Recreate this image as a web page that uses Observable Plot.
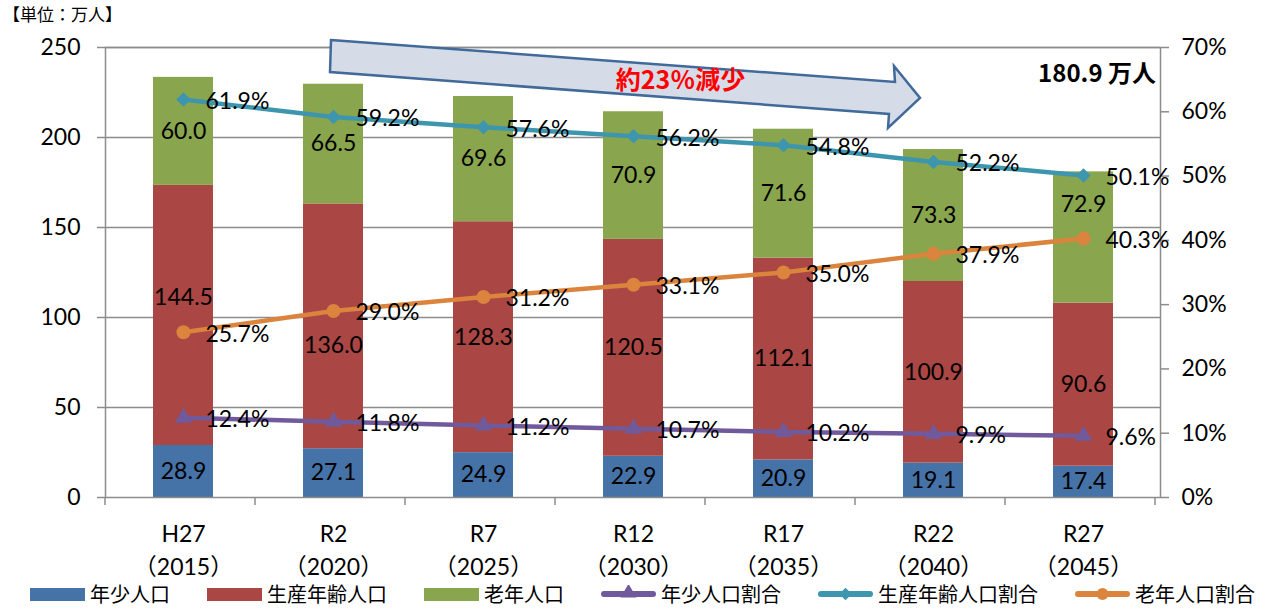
<!DOCTYPE html>
<html>
<head>
<meta charset="utf-8">
<script src="https://cdn.jsdelivr.net/npm/d3@7"></script>
<script src="https://cdn.jsdelivr.net/npm/@observablehq/plot@0.6"></script>
<style>
  body { margin: 0; background: #fff; font-family: Lato, "Noto Sans CJK JP", sans-serif; }
  #wrap { position: relative; width: 1278px; height: 610px; }
  #unit { position: absolute; left: 3px; top: 4px; font-size: 17px; line-height: 1.2; font-family: "Noto Sans CJK JP", sans-serif; color: #000; }
  #legend { position: absolute; left: 30px; top: 584px; height: 20px; line-height: 20px; display: flex; align-items: center; gap: 37px; font-family: "Noto Sans CJK JP", sans-serif; font-size: 20px; color: #000; }
  .item { display: flex; align-items: center; gap: 5px; white-space: nowrap; height: 20px; }
  .item span { line-height: 20px; }
</style>
</head>
<body>
<div id="wrap">
  <div id="chart"></div>
  <div id="unit">【単位：万人】</div>
  <div id="legend"></div>
</div>
<script>
// ---- data ----
const categories = ["H27", "R2", "R7", "R12", "R17", "R22", "R27"];
const years = ["2015", "2020", "2025", "2030", "2035", "2040", "2045"];
const seriesNames = ["年少人口", "生産年齢人口", "老年人口"];
const young = [28.9, 27.1, 24.9, 22.9, 20.9, 19.1, 17.4];
const working = [144.5, 136.0, 128.3, 120.5, 112.1, 100.9, 90.6];
const elderly = [60.0, 66.5, 69.6, 70.9, 71.6, 73.3, 72.9];
const ratioNames = ["年少人口割合", "生産年齢人口割合", "老年人口割合"];
const youngPct = [12.4, 11.8, 11.2, 10.7, 10.2, 9.9, 9.6];
const workingPct = [61.9, 59.2, 57.6, 56.2, 54.8, 52.2, 50.1];
const elderlyPct = [25.7, 29.0, 31.2, 33.1, 35.0, 37.9, 40.3];
const leftTicks = [0, 50, 100, 150, 200, 250];
const rightTicks = [0, 10, 20, 30, 40, 50, 60, 70];
const annotation = "約23％減少";

// ---- styling ----
const barColors = ["#4572A7", "#AA4643", "#89A54E"];
const lineColors = ["#715a9b", "#3D96AE", "#DB843D"];
const symbols = ["triangle", "diamond2", "circle"];
const Y_MAX = 250, P_MAX = 70;
const toY = p => p * Y_MAX / P_MAX;

// ---- build tables ----
const barRows = [];
[young, working, elderly].forEach((arr, s) => {
  arr.forEach((v, i) => barRows.push({cat: categories[i], series: seriesNames[s], value: v}));
});
// segment labels at segment centre, nudged away from the 老年人口割合 line when too close
const NEAR = 16, AWAY = 19; // in y-data units
const barLabels = [];
categories.forEach((c, i) => {
  let base = 0;
  const lineY = toY(elderlyPct[i]);
  [young, working, elderly].forEach((arr, s) => {
    const v = arr[i];
    let mid = base + v / 2;
    if (s > 0 && Math.abs(mid - lineY) < NEAR) mid = mid >= lineY ? lineY + AWAY : lineY - AWAY;
    barLabels.push({cat: c, series: s, mid, text: v.toFixed(1)});
    base += v;
  });
});
const pctArrays = [youngPct, workingPct, elderlyPct];
const lineRows = [];
pctArrays.forEach((arr, s) => arr.forEach((p, i) => lineRows.push({cat: categories[i], s, name: ratioNames[s], p, y: toY(p)})));
const total = young.at(-1) + working.at(-1) + elderly.at(-1);

const numFont = "Lato, 'Noto Sans CJK JP', sans-serif";

const marks = [
  Plot.gridY(leftTicks.filter(d => d > 0), {stroke: "#8c8c8c", strokeOpacity: 1, strokeWidth: 1.5}),
  Plot.barY(barRows, {x: "cat", y: "value", fill: "series"}),
  Plot.frame({stroke: "#8c8c8c", strokeWidth: 1.5}),
  Plot.axisY(leftTicks, {anchor: "left", label: null, tickSize: 8, tickPadding: 17, stroke: "#8c8c8c", strokeWidth: 1.5, fill: "#000", fontSize: 23}),
  Plot.axisY(rightTicks.map(toY), {anchor: "right", label: null, tickSize: 8, tickPadding: 13, stroke: "#8c8c8c", strokeWidth: 1.5, fill: "#000", fontSize: 23,
    tickFormat: v => Math.round(v * P_MAX / Y_MAX) + "%"}),
  Plot.axisX({anchor: "bottom", label: null, tickSize: 0, tickPadding: 21, fontSize: 23, lineHeight: 1.43, fill: "#000",
    tickFormat: (d) => d + "\n（" + years[categories.indexOf(d)] + "）"}),
  Plot.text(barLabels, {x: "cat", y: "mid", text: "text", fontSize: 23, fill: "#000"}),
];
[0, 1, 2].forEach(s => {
  const rows = lineRows.filter(d => d.s === s);
  marks.push(Plot.line(rows, {x: "cat", y: "y", stroke: lineColors[s], strokeWidth: 4.5}));
  marks.push(Plot.dot(rows, {x: "cat", y: "y", fill: lineColors[s], symbol: symbols[s], r: s === 2 ? 7 : 6.5, stroke: null}));
  marks.push(Plot.text(rows, {x: "cat", y: "y", text: d => d.p.toFixed(1) + "%", textAnchor: "start", dx: 22, dy: 2, fontSize: 23, fill: "#000"}));
});

const plot = Plot.plot({
  width: 1278,
  height: 584,
  marginLeft: 105,
  marginRight: 118,
  marginTop: 47,
  marginBottom: 87,
  style: {fontFamily: numFont, fontSize: "23px", background: "#fff", color: "#000"},
  x: {domain: categories, paddingInner: 0.6, paddingOuter: 0.3, axis: null, label: null},
  y: {domain: [0, Y_MAX], axis: null, label: null},
  color: {domain: seriesNames, range: barColors},
  marks
});
document.getElementById("chart").appendChild(plot);

// ---- decorations computed from scales ----
const svg = d3.select(plot);
const xs = plot.scale("x");
const ys = plot.scale("y");
const step = xs.step;
const x0 = xs.range[0];
const yBottom = ys.apply(0);
// category boundary ticks on the bottom axis
const bt = svg.append("g");
for (let i = 0; i <= categories.length; i++) {
  const xx = x0 + i * step;
  bt.append("line").attr("x1", xx).attr("x2", xx).attr("y1", yBottom).attr("y2", yBottom + 8)
    .attr("stroke", "#8c8c8c").attr("stroke-width", 1.5);
}
// trend arrow (from R2 band toward R22 band)
const ax0 = xs.apply("R2") + xs.bandwidth / 2 - 2;
const ax1 = xs.apply("R22") + xs.bandwidth / 2 - 13;
const yTop = ys.apply(Y_MAX);
const pts = [
  [ax0, yTop - 7],
  [ax1 - 25, yTop + 35],
  [ax1 - 26, yTop + 19],
  [ax1, yTop + 51],
  [ax1 - 32, yTop + 81],
  [ax1 - 31, yTop + 67],
  [ax0 - 1, yTop + 25]
];
svg.append("polygon").attr("points", pts.map(p => p.join(",")).join(" "))
  .attr("fill", "#d5dce8").attr("stroke", "#41699a").attr("stroke-width", 2.5).attr("stroke-linejoin", "miter");
svg.append("text").attr("x", (ax0 + ax1) / 2 + 55).attr("y", yTop + 42)
  .attr("text-anchor", "middle").attr("font-family", "'Noto Sans CJK JP', sans-serif").attr("font-weight", "bold")
  .attr("font-size", 25).attr("fill", "#ff0000").text(annotation);
svg.append("text").attr("x", xs.range[1] - 4).attr("y", yTop + 35)
  .attr("text-anchor", "end").attr("font-family", "'Noto Sans CJK JP', sans-serif").attr("font-weight", "bold")
  .attr("font-size", 24).attr("fill", "#000").text(total.toFixed(1) + " 万人");

// ---- legend ----
const legend = d3.select("#legend");
seriesNames.forEach((n, i) => {
  const it = legend.append("div").attr("class", "item");
  it.append("div").style("width", "55px").style("height", "13px").style("background", barColors[i]);
  it.append("span").text(n);
});
ratioNames.forEach((n, i) => {
  const it = legend.append("div").attr("class", "item");
  const s = it.append("svg").attr("width", 55).attr("height", 18);
  s.append("line").attr("x1", 3).attr("x2", 52).attr("y1", 9).attr("y2", 9)
    .attr("stroke", lineColors[i]).attr("stroke-width", 6).attr("stroke-linecap", "round");
  const sym = {triangle: d3.symbolTriangle, diamond2: d3.symbolSquare, circle: d3.symbolCircle}[symbols[i]];
  s.append("path").attr("d", d3.symbol(sym, i === 1 ? 80 : 110)()).attr("fill", lineColors[i])
    .attr("transform", `translate(27.5,${i === 0 ? 8 : 9}) rotate(${i === 1 ? 45 : 0})`);
  it.append("span").text(n);
});
</script>
</body>
</html>
